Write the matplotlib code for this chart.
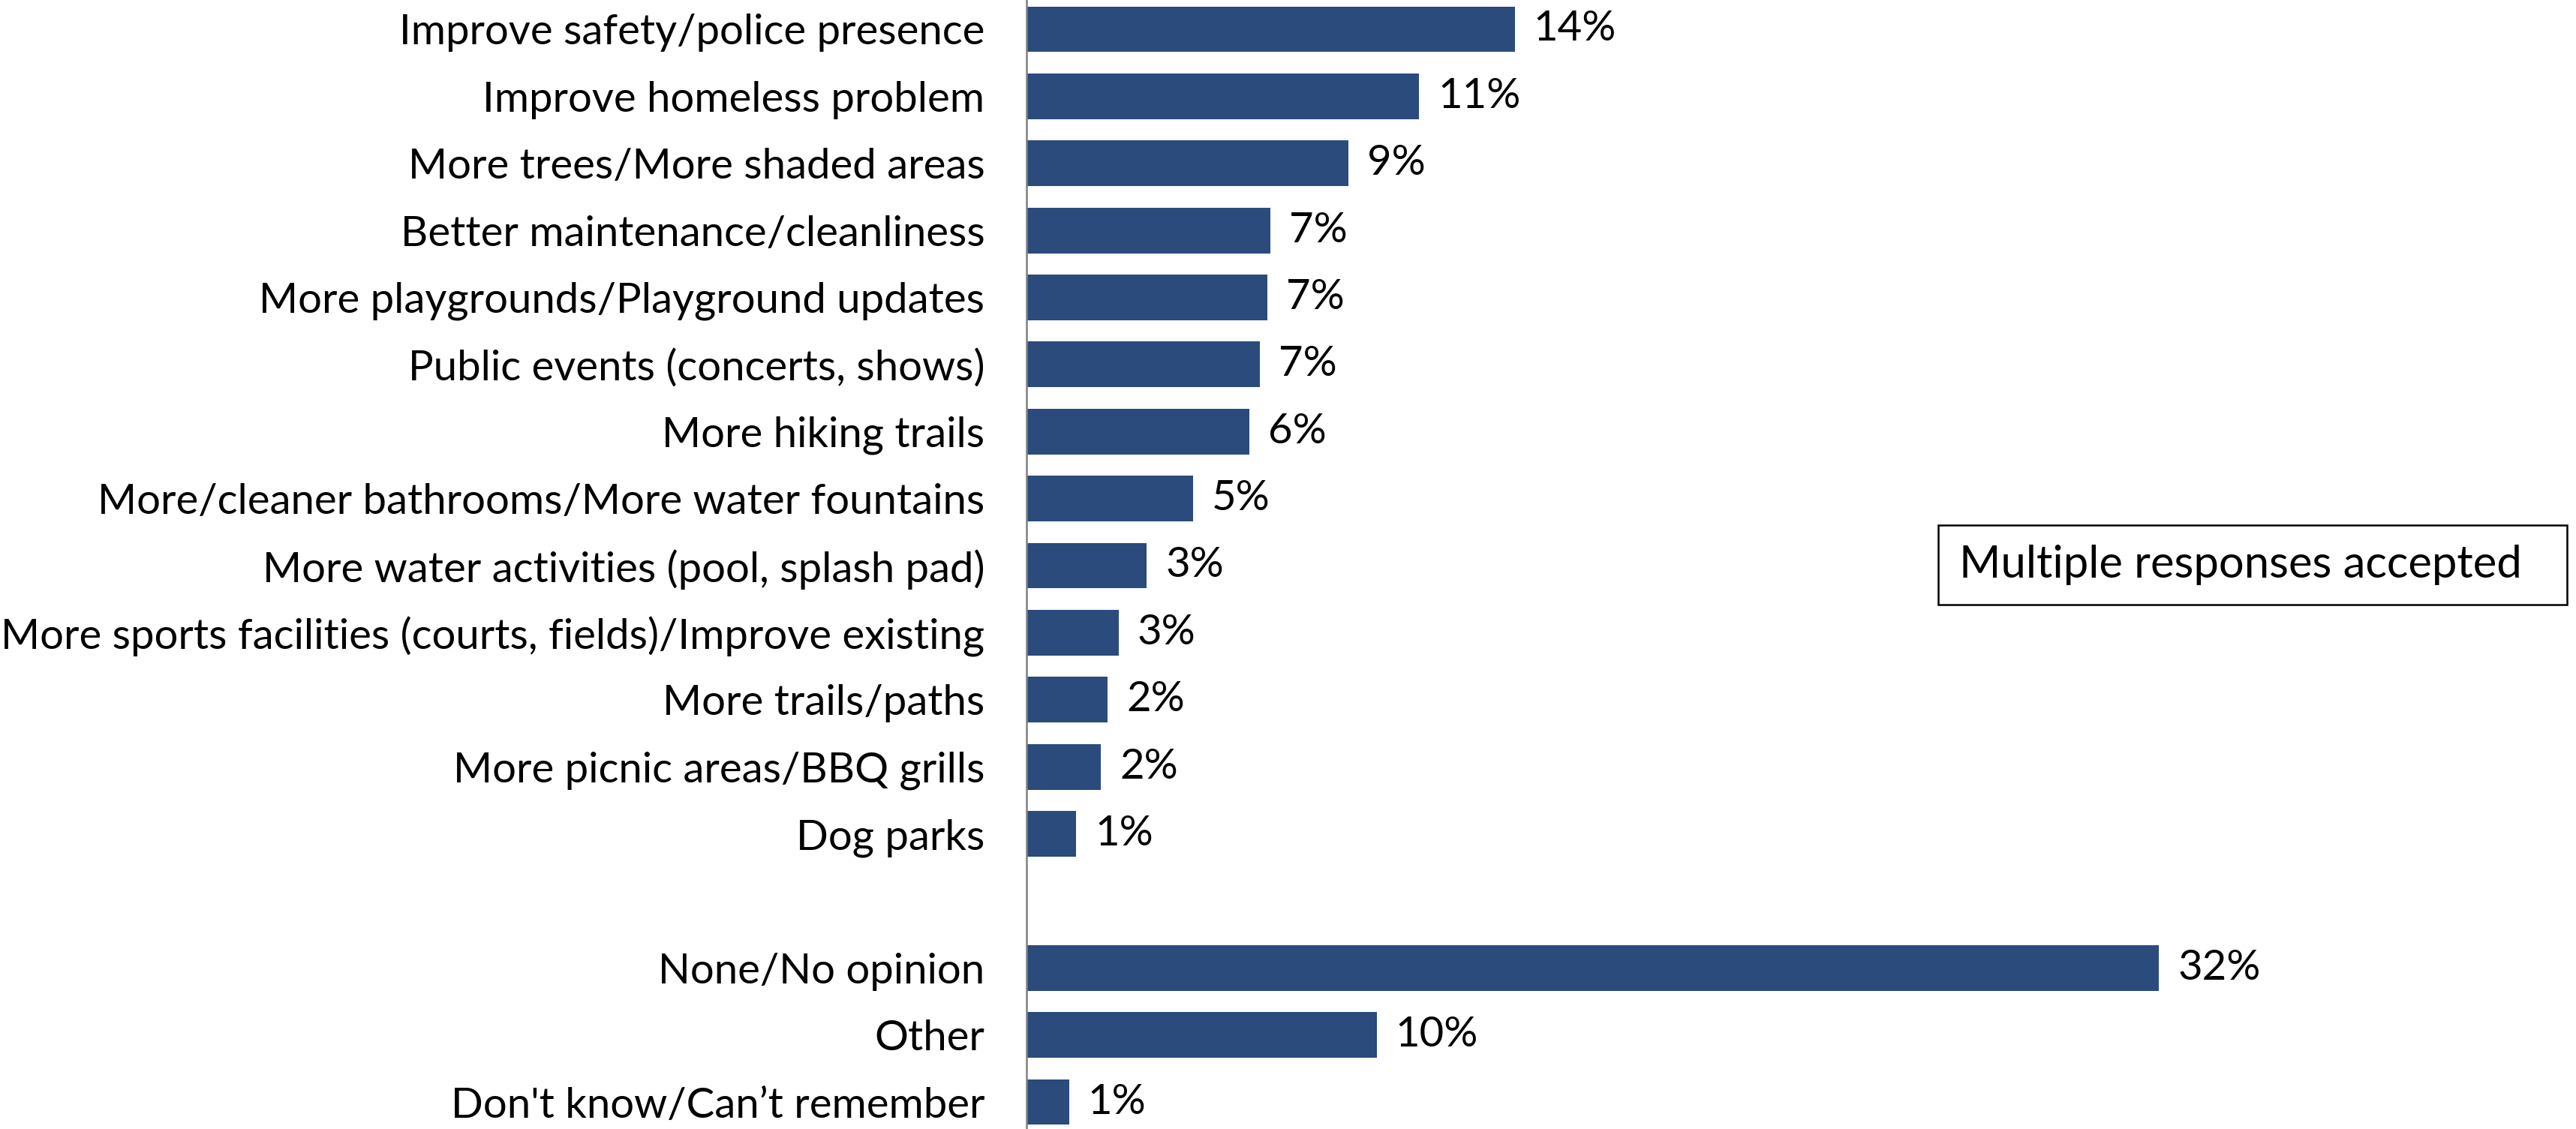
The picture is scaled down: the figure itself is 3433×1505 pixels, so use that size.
import matplotlib
matplotlib.use("Agg")
import matplotlib.pyplot as plt
from matplotlib.patches import Rectangle

# -------------------------
# 数据
# -------------------------

categories = [
    "Improve safety/police presence",
    "Improve homeless problem",
    "More trees/More shaded areas",
    "Better maintenance/cleanliness",
    "More playgrounds/Playground updates",
    "Public events (concerts, shows)",
    "More hiking trails",
    "More/cleaner bathrooms/More water fountains",
    "More water activities (pool, splash pad)",
    "More sports facilities (courts, fields)/Improve existing",
    "More trails/paths",
    "More picnic areas/BBQ grills",
    "Dog parks",
]
values = [13.8, 11.1, 9.1, 6.9, 6.8, 6.6, 6.3, 4.7, 3.4, 2.6, 2.3, 2.1, 1.4]

other_categories = ["None/No opinion", "Other", "Don't know/Can\u2019t remember"]
other_values = [32.0, 9.9, 1.2]

note_text = "Multiple responses accepted"

bar_color = "#2A4B7C"
font_family = ["Lato", "DejaVu Sans"]
font_size = 40.5

# 一个空行隔开两组
labels = categories + [""] + other_categories
vals = values + [None] + other_values
positions = list(range(len(labels)))

W, H = 3433, 1505
fig = plt.figure(figsize=(W / 100, H / 100), dpi=100)

axis_x = 1368
px_per_pct = 47.16
ax = fig.add_axes([axis_x / W, 0, 1 - axis_x / W, 1])

pitch = 89.4
top_c, bot_c = 39, 1469
ax.set_ylim(16 + (H - bot_c) / pitch, -top_c / pitch)
ax.set_xlim(0, (W - axis_x) / px_per_pct)

bar_pos = [p for p, v in zip(positions, vals) if v is not None]
bar_vals = [v for v in vals if v is not None]

ax.barh(bar_pos, bar_vals, height=0.68, color=bar_color, zorder=2)

for p, v in zip(bar_pos, bar_vals):
    ax.annotate(
        f"{round(v)}%",
        xy=(v, p),
        xytext=(18, 0),
        textcoords="offset points",
        va="center",
        ha="left",
        fontsize=font_size,
        family=font_family,
        color="black",
    )

ax.set_yticks(positions)
ax.set_yticklabels(labels, fontsize=font_size, family=font_family, color="black")
ax.tick_params(axis="y", length=0, pad=40)
ax.set_xticks([])

for side in ["top", "right", "bottom"]:
    ax.spines[side].set_visible(False)
ax.spines["left"].set_color("#808080")
ax.spines["left"].set_linewidth(1.8)

# -------------------------
# 注释框
# -------------------------

bx0, bx1 = 2583, 3421
by0, by1 = 700, 806
fig.patches.append(
    Rectangle(
        (bx0 / W, 1 - by1 / H),
        (bx1 - bx0) / W,
        (by1 - by0) / H,
        transform=fig.transFigure,
        fill=False,
        edgecolor="black",
        linewidth=1.8,
    )
)
fig.text(
    2611 / W,
    1 - 753 / H,
    note_text,
    ha="left",
    va="center",
    fontsize=43,
    family=font_family,
    color="black",
)

fig.savefig("out.png", dpi=100)
